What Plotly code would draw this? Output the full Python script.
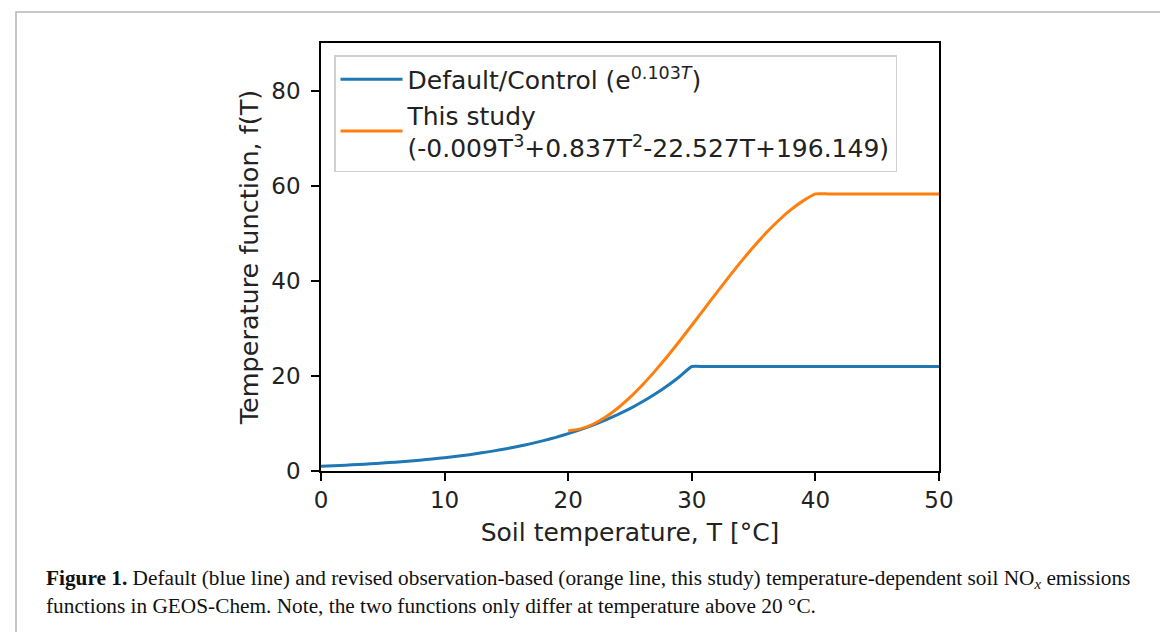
import plotly.graph_objects as go

# ---- data ----
t_default = [0, 1, 2, 3, 4, 5, 6, 7, 8, 9, 10, 11, 12, 13, 14, 15, 16, 17, 18, 19,
             20, 21, 22, 23, 24, 25, 26, 27, 28, 29, 30, 31, 32, 40, 50]
f_default = [1.00, 1.11, 1.23, 1.36, 1.51, 1.67, 1.86, 2.06, 2.28, 2.53, 2.80, 3.11,
             3.44, 3.82, 4.23, 4.69, 5.20, 5.76, 6.39, 7.08, 7.85, 8.70, 9.64, 10.69,
             11.85, 13.13, 14.56, 16.14, 17.89, 19.83, 21.98, 21.98, 21.98, 21.98, 21.98]

t_study = [20, 21, 22, 23, 24, 25, 26, 27, 28, 29, 30, 31, 32, 33, 34, 35, 36, 37,
           38, 39, 40, 41, 42, 50]
f_study = [8.41, 8.85, 9.83, 11.30, 13.20, 15.47, 18.08, 20.95, 24.03, 27.28, 30.64,
           34.05, 37.46, 40.82, 44.07, 47.15, 50.03, 52.63, 54.90, 56.80, 58.27,
           58.27, 58.27, 58.27]

x_ticks = [0, 10, 20, 30, 40, 50]
y_ticks = [0, 20, 40, 60, 80]

name_default = "Default/Control (e<sup>0.103<i>T</i></sup>)"
name_study = "This study<br>(-0.009T<sup>3</sup>+0.837T<sup>2</sup>-22.527T+196.149)"
x_title = "Soil temperature, T [°C]"
y_title = "Temperature function, f(T)"
caption = ("<b>Figure 1.</b> Default (blue line) and revised observation-based (orange line, this study) "
           "temperature-dependent soil NO<sub><i>x</i></sub> emissions<br>"
           "functions in GEOS-Chem. Note, the two functions only differ at temperature above 20 °C.")

# ---- layout geometry (pixels) ----
W, H = 1168, 632
L, R, T, B = 313, 931, 35, 463
pw, ph = R - L, B - T

def px_x(x):
    return (x - L) / pw

def px_y(y):
    return (B - y) / ph

fig = go.Figure()
fig.add_trace(go.Scatter(x=t_default, y=f_default, mode="lines", name=name_default,
                         line=dict(color="#1f77b4", width=3, shape="spline", smoothing=0.4)))
fig.add_trace(go.Scatter(x=t_study, y=f_study, mode="lines", name=name_study,
                         line=dict(color="#ff7f0e", width=3, shape="spline", smoothing=0.4)))

axis_common = dict(showline=True, linecolor="black", linewidth=1.5, mirror=True,
                   ticks="outside", ticklen=8, tickwidth=1.5, tickcolor="black",
                   showgrid=False, zeroline=False,
                   tickfont=dict(family="DejaVu Sans", size=23, color="#222"))

fig.update_xaxes(range=[0, 50], tickvals=x_ticks, ticklabelstandoff=0,
                 title=dict(text=x_title, font=dict(family="DejaVu Sans", size=25, color="#222"),
                            standoff=11),
                 **axis_common)
fig.update_yaxes(range=[0, 90], tickvals=y_ticks, ticklabelstandoff=6,
                 title=dict(text=y_title, font=dict(family="DejaVu Sans", size=25.5, color="#222"),
                            standoff=5),
                 **axis_common)

fig.update_layout(
    width=W, height=H,
    margin=dict(l=L, r=W - R, t=T, b=H - B),
    paper_bgcolor="white", plot_bgcolor="white",
    font=dict(family="DejaVu Sans", color="#222"),
    legend=dict(x=px_x(326), y=px_y(47), xanchor="left", yanchor="top",
                font=dict(family="DejaVu Sans", size=25, color="#222"),
                bgcolor="rgba(255,255,255,0.85)", bordercolor="#d0d0d0", borderwidth=1.5,
                tracegroupgap=2, itemwidth=62),
    shapes=[dict(type="rect", xref="paper", yref="paper",
                 x0=px_x(8), x1=px_x(1165), y0=px_y(650), y1=px_y(4),
                 line=dict(color="#b5b5b5", width=1.5), fillcolor="rgba(0,0,0,0)", layer="below")],
    annotations=[dict(text=caption, xref="paper", yref="paper",
                      x=px_x(36), y=px_y(556), xanchor="left", yanchor="top", align="left",
                      showarrow=False,
                      font=dict(family="Liberation Serif", size=21.3, color="#111"))],
)

fig.write_html("out.html")
